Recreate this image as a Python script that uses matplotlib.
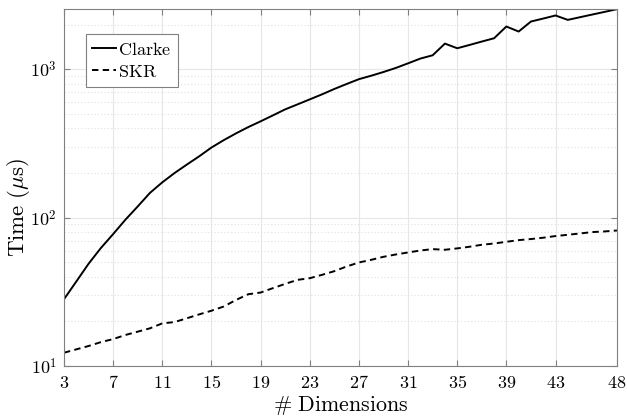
import matplotlib
matplotlib.use("Agg")
import matplotlib.pyplot as plt
import matplotlib.ticker as mticker
import numpy as np

plt.rcParams['mathtext.fontset'] = 'cm'

# Dimensions 3..48 and timings (microseconds)
dims = list(range(3, 49))
clarke = [28.2, 37.1, 48.9, 62.4, 77.5, 96.9, 119, 147, 173, 200,
          228, 259, 297, 333, 370, 408, 446, 489, 537, 580,
          627, 678, 737, 796, 858, 905, 959, 1021, 1097, 1181,
          1243, 1490, 1386, 1459, 1538, 1619, 1942, 1797, 2099, 2198,
          2305, 2153, 2245, 2340, 2438, 2543]
skr = [12.3, 12.96, 13.65, 14.5, 15.2, 16.2, 17.06, 17.97, 19.4, 19.8,
       21.0, 22.3, 23.6, 25.2, 27.9, 30.5, 31.3, 33.5, 35.8, 38.1,
       39.1, 41.2, 43.6, 46.9, 49.9, 52.0, 54.5, 56.5, 58.3, 60.1,
       61.4, 60.8, 62.1, 63.7, 65.7, 67.0, 68.8, 70.6, 71.8, 73.3,
       75.2, 76.7, 78.3, 80.0, 80.8, 82.0]
xticks = [3, 7, 11, 15, 19, 23, 27, 31, 35, 39, 43, 48]
yticks = [10, 100, 1000]

fig = plt.figure(figsize=(6.27, 4.16), dpi=100)
ax = fig.add_axes([0.102, 0.120, 0.882, 0.858])

ax.plot(dims, clarke, color='black', lw=1.4, label=r'$\mathrm{Clarke}$')
ax.plot(dims, skr, color='black', lw=1.4, linestyle=(0, (3.3, 2.2)),
        label=r'$\mathrm{SKR}$')

ax.set_yscale('log')
ax.set_xlim(3, 48)
ax.set_ylim(10, clarke[-1])

ax.set_xticks(xticks)
ax.xaxis.set_major_formatter(mticker.FixedFormatter([f'${t}$' for t in xticks]))
ax.set_yticks(yticks)
ax.yaxis.set_major_formatter(mticker.FixedFormatter([f'$10^{{{int(np.log10(t))}}}$' for t in yticks]))
ax.yaxis.set_minor_locator(mticker.LogLocator(base=10, subs=np.arange(2, 10)))
ax.yaxis.set_minor_formatter(mticker.NullFormatter())

ax.grid(True, which='major', color='#e6e6e6', lw=0.8)
ax.grid(True, which='minor', axis='y', color='#e0e0e0', lw=0.8, linestyle=(0, (1, 2)))
ax.set_axisbelow(True)

ax.tick_params(which='major', direction='in', length=4, top=True, right=True,
               labelsize=13, color='#808080')
ax.tick_params(axis='x', which='major', pad=6)
ax.tick_params(axis='y', which='major', pad=5)
ax.tick_params(which='minor', length=0)
for s in ax.spines.values():
    s.set_color('#808080')
    s.set_linewidth(0.8)

ax.set_xlabel(r'$\#\ \mathrm{Dimensions}$', fontsize=15.8)
ax.xaxis.set_label_coords(0.5, -0.077)
ax.set_ylabel(r'$\mathrm{Time}\ (\mu\mathrm{s})$', fontsize=16.5)
ax.yaxis.set_label_coords(-0.057, 0.445)

leg = ax.legend(loc='upper left', bbox_to_anchor=(0.039, 0.930), borderaxespad=0,
                fontsize=13, fancybox=False, framealpha=1, edgecolor='#808080',
                handlelength=1.3, handletextpad=0.15, borderpad=0.37, labelspacing=0.22)
leg.get_frame().set_linewidth(0.8)

fig.savefig('out.png', dpi=100)
